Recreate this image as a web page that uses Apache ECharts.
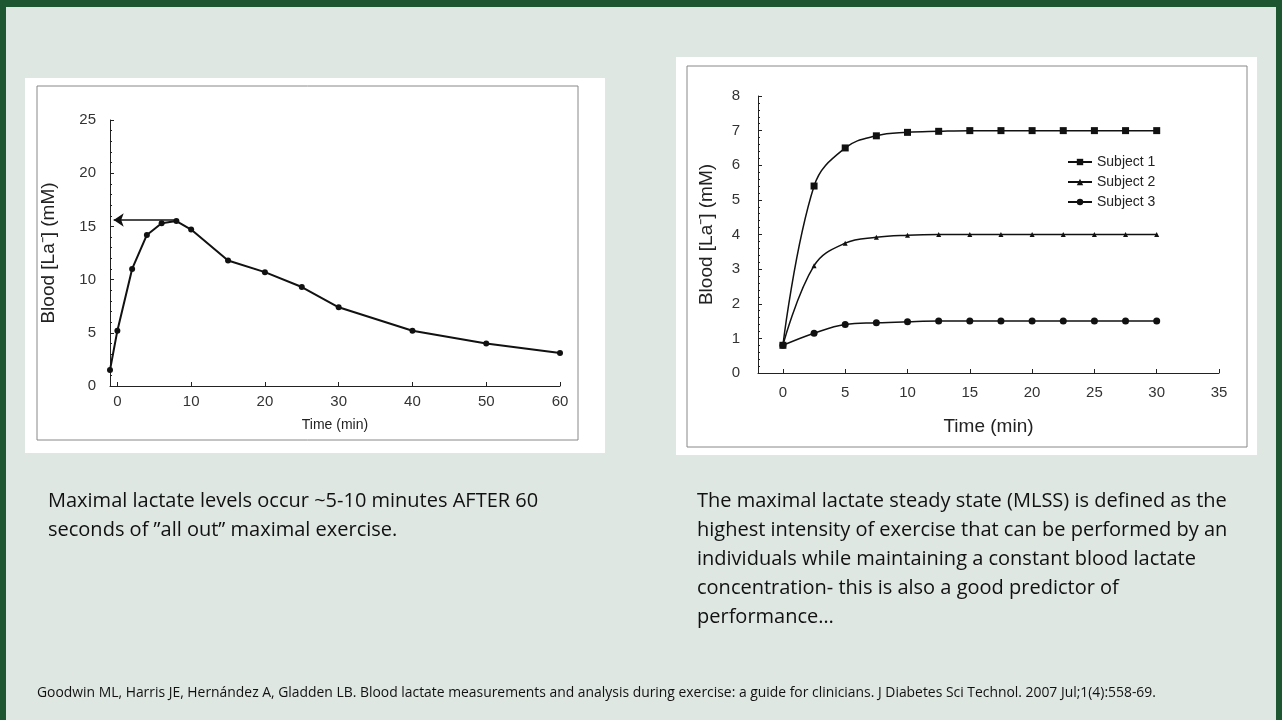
<!DOCTYPE html>
<html><head><meta charset="utf-8">
<script src="https://cdn.jsdelivr.net/npm/echarts@6/dist/echarts.min.js"></script>
<style>html,body{margin:0;padding:0;background:#1e5632;}#c{width:1282px;height:720px;}</style>
</head><body><div id="c"></div>
<script>
const leftX=[-1,0,2,4,6,8,10,15,20,25,30,40,50,60];
const leftY=[1.5,5.2,11,14.2,15.3,15.5,14.7,11.8,10.7,9.3,7.4,5.2,4,3.1];
const leftTicks=[0,10,20,30,40,50,60];
const rightX=[0,2.5,5,7.5,10,12.5,15,17.5,20,22.5,25,27.5,30];
const subj1=[0.8,5.4,6.5,6.85,6.95,6.98,7,7,7,7,7,7,7];
const subj2=[0.8,3.1,3.75,3.92,3.98,4,4,4,4,4,4,4,4];
const subj3=[0.8,1.15,1.4,1.45,1.48,1.5,1.5,1.5,1.5,1.5,1.5,1.5,1.5];
const rightTicks=[0,5,10,15,20,25,30,35];
const peak=15.6;

const pair=(xs,ys)=>xs.map((x,i)=>[x,ys[i]]);
const ax={axisLine:{show:true,onZero:false,lineStyle:{color:'#222',width:1}},splitLine:{show:false},
 axisLabel:{color:'#333',fontFamily:'Liberation Sans',fontSize:14}};
const chart=echarts.init(document.getElementById('c'));
chart.setOption({
 animation:false,
 graphic:[
  {type:'rect',shape:{x:6,y:7,width:1270,height:713},style:{fill:'#dfe7e3'},z:-10},
  {type:'rect',shape:{x:25,y:78,width:580,height:375},style:{fill:'#fff'},z:-9},
  {type:'rect',shape:{x:37,y:86,width:541,height:354},style:{fill:'none',stroke:'#888',lineWidth:1},z:-8},
  {type:'rect',shape:{x:676,y:57,width:581,height:398},style:{fill:'#fff'},z:-9},
  {type:'rect',shape:{x:687,y:66,width:560,height:381},style:{fill:'none',stroke:'#888',lineWidth:1},z:-8},
  {type:'text',left:48,top:487,style:{text:'Maximal lactate levels occur ~5-10 minutes AFTER 60\nseconds of \u201dall out\u201d maximal exercise.',font:'20px "Open Sans"',fill:'#111',lineHeight:29}},
  {type:'text',left:697,top:487,style:{text:'The maximal lactate steady state (MLSS) is defined as the\nhighest intensity of exercise that can be performed by an\nindividuals while maintaining a constant blood lactate\nconcentration- this is also a good predictor of\nperformance\u2026',font:'20px "Open Sans"',fill:'#111',lineHeight:29}},
  {type:'text',left:37,top:686,style:{text:'Goodwin ML, Harris JE, Hern\u00e1ndez A, Gladden LB. Blood lactate measurements and analysis during exercise: a guide for clinicians. J Diabetes Sci Technol. 2007 Jul;1(4):558-69.',font:'13.9px "Open Sans"',fill:'#111'}}
 ],
 grid:[{left:110,right:722,top:120,bottom:334},{left:758,right:63,top:96,bottom:347}],
 xAxis:[
  Object.assign({},ax,{gridIndex:0,type:'value',min:-1,max:60,name:'Time (min)',nameLocation:'middle',nameGap:32,
   nameTextStyle:{fontFamily:'Liberation Sans',fontSize:14,color:'#222'},
   axisTick:{show:true,customValues:leftTicks,inside:true,length:4},axisLabel:Object.assign({},ax.axisLabel,{customValues:leftTicks,fontSize:15})}),
  Object.assign({},ax,{gridIndex:1,type:'value',min:-2,max:35,name:'Time (min)',nameLocation:'middle',nameGap:44,
   nameTextStyle:{fontFamily:'Liberation Sans',fontSize:19,color:'#222'},
   axisTick:{show:true,customValues:rightTicks,inside:true,length:4},axisLabel:Object.assign({},ax.axisLabel,{customValues:rightTicks,fontSize:15,margin:12})})
 ],
 yAxis:[
  Object.assign({},ax,{gridIndex:0,type:'value',min:0,max:25,interval:5,name:'Blood [La\u207b] (mM)',nameLocation:'middle',nameGap:52,
   nameTextStyle:{fontFamily:'Liberation Sans',fontSize:19,color:'#222'},
   axisTick:{show:true,inside:true,length:4},minorTick:{show:true,splitNumber:5,length:2},axisLabel:Object.assign({},ax.axisLabel,{fontSize:15,margin:14})}),
  Object.assign({},ax,{gridIndex:1,type:'value',min:0,max:8,interval:1,name:'Blood [La\u207b] (mM)',nameLocation:'middle',nameGap:42,
   nameTextStyle:{fontFamily:'Liberation Sans',fontSize:19,color:'#222'},
   axisTick:{show:true,inside:true,length:4},minorTick:{show:true,splitNumber:5,length:2},axisLabel:Object.assign({},ax.axisLabel,{fontSize:15,margin:18})})
 ],
 legend:{show:true,orient:'vertical',left:1062,top:150,itemGap:6,itemWidth:24,itemHeight:8,
  textStyle:{fontFamily:'Liberation Sans',fontSize:14,color:'#222'},data:['Subject 1','Subject 2','Subject 3']},
 series:[
  {type:'line',xAxisIndex:0,yAxisIndex:0,data:pair(leftX,leftY),symbol:'circle',symbolSize:6,
   lineStyle:{color:'#111',width:2},itemStyle:{color:'#111'},
   markLine:{silent:true,symbol:['arrow','none'],symbolSize:[10,10],label:{show:false},lineStyle:{color:'#111',width:1.5,type:'solid'},
    data:[[{coord:[-0.5,peak]},{coord:[8,peak]}]]}},
  {name:'Subject 1',type:'line',smooth:0.4,xAxisIndex:1,yAxisIndex:1,data:pair(rightX,subj1),symbol:'rect',symbolSize:7,lineStyle:{color:'#111',width:1.5},itemStyle:{color:'#111'}},
  {name:'Subject 2',type:'line',smooth:0.4,xAxisIndex:1,yAxisIndex:1,data:pair(rightX,subj2),symbol:'triangle',symbolSize:5,lineStyle:{color:'#111',width:1.5},itemStyle:{color:'#111'}},
  {name:'Subject 3',type:'line',smooth:0.4,xAxisIndex:1,yAxisIndex:1,data:pair(rightX,subj3),symbol:'circle',symbolSize:7,lineStyle:{color:'#111',width:1.5},itemStyle:{color:'#111'}}
 ]
});
</script></body></html>
